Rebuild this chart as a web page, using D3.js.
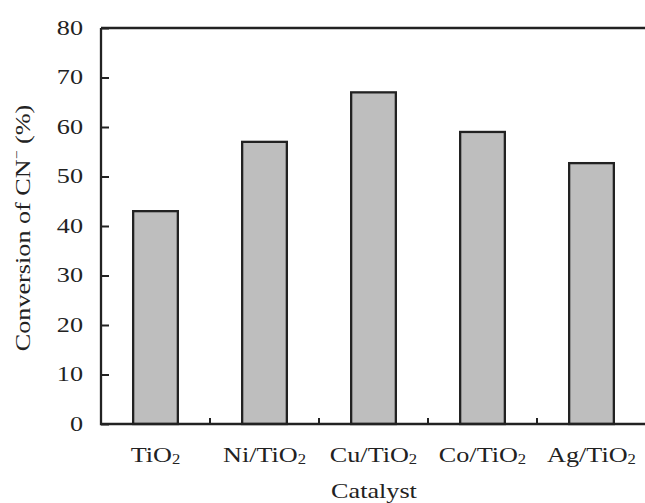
<!DOCTYPE html>
<html><head><meta charset="utf-8">
<script src="https://cdn.jsdelivr.net/npm/d3@7"></script>
<style>body{margin:0;background:#fff}svg{display:block}text{font-family:"Liberation Serif","Times New Roman",serif;fill:#222}</style>
</head><body><svg id="c" width="645" height="503"></svg>
<script>
const categories = ["TiO2","Ni/TiO2","Cu/TiO2","Co/TiO2","Ag/TiO2"];
const labelMain = ["TiO","Ni/TiO","Cu/TiO","Co/TiO","Ag/TiO"];
const labelSub = ["2","2","2","2","2"];
const values = [43, 57, 67, 59, 52.7];
const yTicks = [0,10,20,30,40,50,60,70,80];

const SX = 1.19; // horizontal stretch of the lettering
const svg = d3.select("#c");
const m = {l:101, r:646, t:28, b:424};
const x = d3.scaleBand().domain(categories).range([m.l, m.r]).paddingInner(0).paddingOuter(0);
const y = d3.scaleLinear().domain([0,80]).range([m.b, m.t]);
const bw = x.bandwidth()*0.41;

// bars
svg.selectAll("rect.bar").data(values).join("rect")
  .attr("x",(d,i)=>x(categories[i])+x.bandwidth()/2-bw/2)
  .attr("y",d=>y(d)).attr("width",bw).attr("height",d=>y(0)-y(d))
  .attr("fill","#bebebe").attr("stroke","#222").attr("stroke-width",2.3);

// y axis
const ya = svg.append("g").attr("transform",`translate(${m.l},0)`)
  .call(d3.axisRight(y).tickValues(yTicks).tickSize(8).tickFormat(""));
ya.select(".domain").remove();
ya.selectAll("line").attr("stroke","#222").attr("stroke-width",2);
svg.selectAll("text.yt").data(yTicks).join("text").attr("class","yt")
  .attr("transform",d=>`translate(83,${y(d)}) scale(${SX},1)`)
  .attr("dy","0.3em").attr("text-anchor","end")
  .attr("font-size",22).text(d=>d);

// x axis ticks between bands
const bounds = categories.slice(1).map(c=>x(c));
svg.selectAll("line.xt").data(bounds).join("line")
  .attr("x1",d=>d).attr("x2",d=>d).attr("y1",m.b).attr("y2",m.b-6)
  .attr("stroke","#222").attr("stroke-width",2);

// frame
svg.append("path").attr("d",`M${m.l},${m.t}H${m.r}M${m.l},${m.t}V${m.b}H${m.r}`)
  .attr("fill","none").attr("stroke","#222").attr("stroke-width",2.3);

// x labels
const xl = svg.selectAll("text.xl").data(categories).join("text").attr("class","xl")
  .attr("transform",d=>`translate(${x(d)+x.bandwidth()/2},462) scale(${SX},1)`)
  .attr("text-anchor","middle").attr("font-size",22);
xl.append("tspan").text((d,i)=>labelMain[i]);
xl.append("tspan").attr("font-size",14).attr("dy",2).text((d,i)=>labelSub[i]);

svg.append("text").attr("transform",`translate(374,498) scale(${SX},1)`)
  .attr("text-anchor","middle").attr("font-size",22).text("Catalyst");

const yt = svg.append("text").attr("transform",`translate(30,228) rotate(-90) scale(${SX},1)`)
  .attr("text-anchor","middle").attr("font-size",22);
yt.append("tspan").text("Conversion of CN");
yt.append("tspan").attr("font-size",13).attr("dy",-9).text("−");
yt.append("tspan").attr("dy",9).text(" (%)");
</script></body></html>
